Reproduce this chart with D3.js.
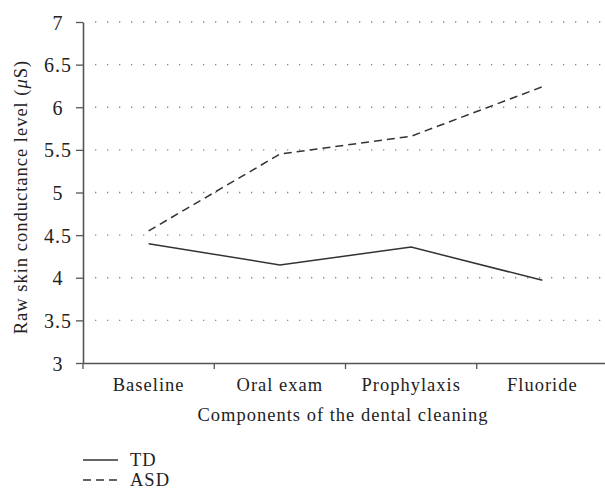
<!DOCTYPE html>
<html>
<head>
<meta charset="utf-8">
<script src="https://cdn.jsdelivr.net/npm/d3@7"></script>
<style>
  body { margin: 0; background: #fff; }
  svg { display: block; }
  svg text { font-family: "Liberation Serif", serif; font-size: 18.5px; letter-spacing: 1px; fill: #222; }
  .grid line { stroke: #888; stroke-width: 1.3; stroke-dasharray: 1.3,10.7; }
</style>
</head>
<body>
<script>
  // data
  const components = ["Baseline", "Oral exam", "Prophylaxis", "Fluoride"];
  const tdValues = [4.40, 4.15, 4.36, 3.97];
  const asdValues = [4.55, 5.45, 5.66, 6.24];
  const yTicks = [3, 3.5, 4, 4.5, 5, 5.5, 6, 6.5, 7];
  const seriesNames = ["TD", "ASD"];

  const w = 605, h = 491;
  const svg = d3.select("body").append("svg").attr("width", w).attr("height", h);

  const x = d3.scaleBand().domain(components).range([83, 608]);
  const y = d3.scaleLinear().domain([3, 7]).range([363, 22]);

  // dotted grid
  svg.append("g").attr("class", "grid")
    .selectAll("line")
    .data(yTicks.filter(d => d > 3))
    .enter().append("line")
    .attr("x1", 95).attr("x2", 605)
    .attr("y1", d => y(d)).attr("y2", d => y(d));

  // y axis
  const yAxis = svg.append("g")
    .attr("transform", "translate(83,0)")
    .call(d3.axisLeft(y).tickValues(yTicks).tickSize(7).tickSizeOuter(0)
      .tickFormat(d => String(d)));
  yAxis.select(".domain").attr("stroke", "#555").attr("stroke-width", 1.6);
  yAxis.selectAll(".tick line").attr("stroke", "#555").attr("stroke-width", 1.3);
  yAxis.selectAll(".tick text")
    .attr("x", -25).attr("text-anchor", "middle").attr("dy", "0.35em")
    .style("font-size", "20px");

  // x axis
  const xAxis = svg.append("g")
    .attr("transform", "translate(0,363)")
    .call(d3.axisBottom(x).tickSize(0).tickSizeOuter(0));
  xAxis.select(".domain").attr("stroke", "#555").attr("stroke-width", 1.6);
  xAxis.selectAll(".tick text").attr("y", 28).attr("dy", 0);
  // ticks at band boundaries
  xAxis.selectAll(".bound")
    .data(components)
    .enter().append("line")
    .attr("x1", d => x(d)).attr("x2", d => x(d))
    .attr("y1", 0).attr("y2", 6)
    .attr("stroke", "#555").attr("stroke-width", 1.3);

  // axis titles
  svg.append("text")
    .attr("x", 343).attr("y", 421)
    .attr("text-anchor", "middle")
    .text("Components of the dental cleaning");

  const yt = svg.append("text")
    .attr("transform", "translate(27,197) rotate(-90)")
    .attr("text-anchor", "middle");
  yt.append("tspan").text("Raw skin conductance level (");
  yt.append("tspan").attr("font-style", "italic").text("μ");
  yt.append("tspan").text("S)");

  // lines
  const line = d3.line()
    .x((d, i) => x(components[i]) + x.bandwidth() / 2)
    .y(d => y(d));

  svg.append("path").datum(tdValues)
    .attr("d", line).attr("fill", "none")
    .attr("stroke", "#333").attr("stroke-width", 1.5);

  svg.append("path").datum(asdValues)
    .attr("d", line).attr("fill", "none")
    .attr("stroke", "#333").attr("stroke-width", 1.5)
    .attr("stroke-dasharray", "8,5");

  // legend
  const leg = svg.append("g").selectAll("g")
    .data(seriesNames)
    .enter().append("g")
    .attr("transform", (d, i) => "translate(83," + (460 + i * 20) + ")");
  leg.append("line")
    .attr("x1", 0).attr("x2", 35).attr("y1", 0).attr("y2", 0)
    .attr("stroke", "#333").attr("stroke-width", 1.5)
    .attr("stroke-dasharray", (d, i) => i ? "8,5" : null);
  leg.append("text")
    .attr("x", 47).attr("y", 6)
    .text(d => d);
</script>
</body>
</html>
